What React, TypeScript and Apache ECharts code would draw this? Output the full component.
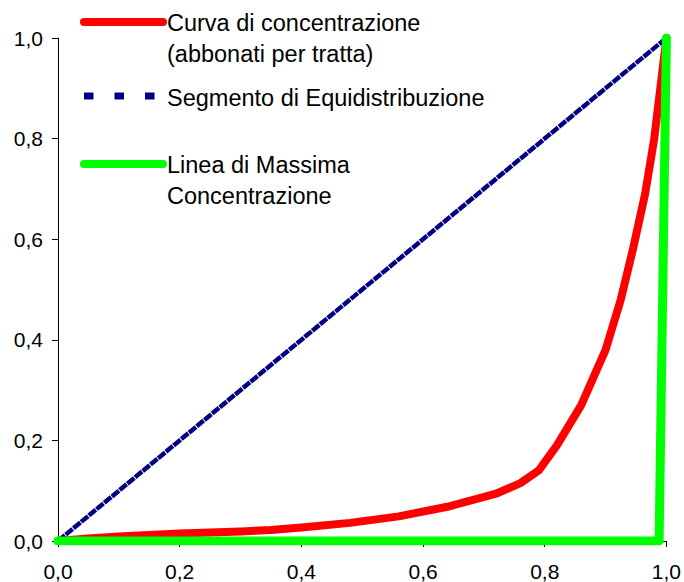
import React, { useEffect, useRef } from "react";
import * as echarts from "echarts";

// Curva di concentrazione (abbonati per tratta)
const concX = [0, 0.05, 0.1, 0.2, 0.3, 0.35, 0.4, 0.48, 0.56, 0.64, 0.72, 0.76, 0.79, 0.82, 0.86, 0.9, 0.925, 0.945, 0.965, 0.98, 0.99, 1.0];
const concY = [0, 0.005, 0.009, 0.015, 0.019, 0.022, 0.027, 0.036, 0.049, 0.068, 0.094, 0.115, 0.14, 0.19, 0.27, 0.38, 0.48, 0.58, 0.69, 0.8, 0.9, 1.0];
// Segmento di Equidistribuzione
const equiX = [0, 1];
const equiY = [0, 1];
// Linea di Massima Concentrazione
const maxX = [0, 0.988, 1];
const maxY = [0, 0, 1];

const legendNames = [
  "Curva di concentrazione\n(abbonati per tratta)",
  "Segmento di Equidistribuzione",
  "Linea di Massima\nConcentrazione",
];

const FONT = "'Liberation Sans', Arial, sans-serif";
const fmt = (v: number) => v.toFixed(1).replace(".", ",");
const zip = (xs: number[], ys: number[]) => xs.map((x, i) => [x, ys[i]]);

// legend text lines with their vertical centres
const legendLines = (name: string, y0: number, step: number) =>
  name.split("\n").map((t, i) => ({
    type: "text",
    x: 167,
    y: y0 + i * step,
    style: { text: t, font: `23.5px ${FONT}`, fill: "#000", verticalAlign: "middle", align: "left" },
  }));

export default function App() {
  const ref = useRef<HTMLDivElement>(null);
  useEffect(() => {
    if (!ref.current) return;
    const chart = echarts.init(ref.current, undefined, { renderer: "svg" });
    const axisCommon = {
      type: "value" as const,
      min: 0,
      max: 1,
      interval: 0.2,
      axisLine: { show: true, lineStyle: { color: "#000", width: 1 } },
      axisTick: { show: true, inside: false, length: 6, lineStyle: { color: "#000" } },
      splitLine: { show: false },
    };
    chart.setOption({
      animation: false,
      backgroundColor: "#fff",
      grid: { left: 58, right: 17, top: 38, bottom: 41, containLabel: false },
      xAxis: {
        ...axisCommon,
        axisLabel: { formatter: fmt, color: "#000", fontSize: 21, fontFamily: FONT, margin: 20 },
      },
      yAxis: {
        ...axisCommon,
        axisLabel: { formatter: fmt, color: "#000", fontSize: 21, fontFamily: FONT, margin: 15 },
      },
      series: [
        {
          name: legendNames[0],
          type: "line",
          data: zip(concX, concY),
          showSymbol: false,
          lineStyle: { color: "#ff0000", width: 8, cap: "round", join: "round" },
          z: 2,
        },
        {
          name: legendNames[1],
          type: "line",
          data: zip(equiX, equiY),
          showSymbol: false,
          lineStyle: { color: "#000080", width: 4.5, type: [9, 1] },
          z: 3,
        },
        {
          name: legendNames[2],
          type: "line",
          data: zip(maxX, maxY),
          showSymbol: false,
          lineStyle: { color: "#00ff00", width: 9, cap: "round", join: "round" },
          z: 4,
        },
      ],
      graphic: [
        { type: "line", shape: { x1: 84, y1: 22, x2: 163, y2: 22 }, style: { stroke: "#ff0000", lineWidth: 8, lineCap: "round" } },
        ...legendLines(legendNames[0], 23, 31),
        { type: "line", shape: { x1: 84, y1: 96, x2: 156, y2: 96 }, style: { stroke: "#000080", lineWidth: 7, lineDash: [9.5, 21] } },
        ...legendLines(legendNames[1], 98, 31),
        { type: "line", shape: { x1: 84, y1: 164, x2: 163, y2: 164 }, style: { stroke: "#00ff00", lineWidth: 8, lineCap: "round" } },
        ...legendLines(legendNames[2], 165, 31),
      ],
    });
    return () => chart.dispose();
  }, []);
  return <div ref={ref} style={{ position: "absolute", left: 0, top: 0, width: 684, height: 582 }} />;
}
